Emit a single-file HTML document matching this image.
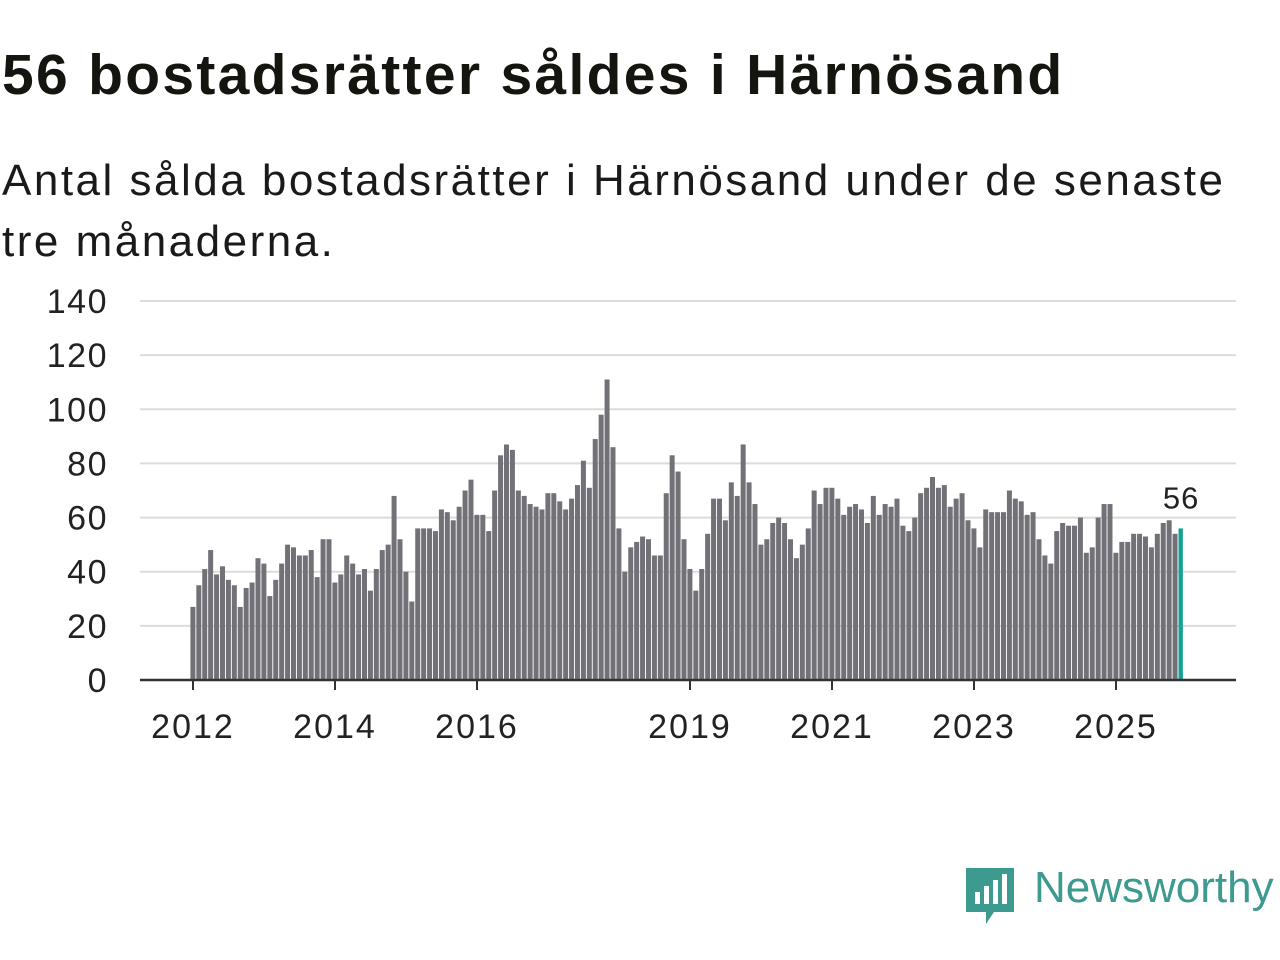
<!DOCTYPE html>
<html><head><meta charset="utf-8"><style>
body{margin:0;width:1280px;height:960px;background:#fff;font-family:"Liberation Sans","DejaVu Sans",sans-serif;color:#111;position:relative;overflow:hidden}
#title{position:absolute;left:2px;top:42px;font-size:57px;font-weight:bold;margin:0;color:#151510;letter-spacing:2.3px;white-space:nowrap}
#sub{position:absolute;left:2px;top:150px;font-size:44px;line-height:61px;margin:0;color:#1a1a1a;width:1240px;letter-spacing:2.5px}
svg{position:absolute;left:0;top:0}
</style></head><body>
<h1 id="title">56 bostadsrätter såldes i Härnösand</h1>
<p id="sub">Antal sålda bostadsrätter i Härnösand under de senaste tre månaderna.</p>
<svg id="chart" width="1280" height="960"></svg>
<script>
const values=[27,35,41,48,39,42,37,35,27,34,36,45,
43,31,37,43,50,49,46,46,48,38,52,52,
36,39,46,43,39,41,33,41,48,50,68,52,
40,29,56,56,56,55,63,62,59,64,70,74,
61,61,55,70,83,87,85,70,68,65,64,63,
69,69,66,63,67,72,81,71,89,98,111,86,
56,40,49,51,53,52,46,46,69,83,77,52,
41,33,41,54,67,67,59,73,68,87,73,65,
50,52,58,60,58,52,45,50,56,70,65,71,
71,67,61,64,65,63,58,68,61,65,64,67,
57,55,60,69,71,75,71,72,64,67,69,59,
56,49,63,62,62,62,70,67,66,61,62,52,
46,43,55,58,57,57,60,47,49,60,65,65,
47,51,51,54,54,53,49,54,58,59,54,56];
const startYear=2012;
const yTicks=[0,20,40,60,80,100,120,140];
const xTickYears=[2012,2014,2016,2019,2021,2023,2025];
const NS="http://www.w3.org/2000/svg";
const svg=document.getElementById('chart');
const y=v=>680-v*(379/140);
const x=i=>193+i*(71/12);
function mk(t,a){const e=document.createElementNS(NS,t);for(const k in a)e.setAttribute(k,a[k]);svg.appendChild(e);return e;}
yTicks.forEach(t=>{
  if(t>0){const g=mk('line',{x1:140,x2:1236,y1:y(t),y2:y(t),stroke:'#dcdcdc','stroke-width':2});
  
  }
  const l=mk('text',{x:108,y:y(t)+12,'text-anchor':'end','font-size':34,fill:'#222','letter-spacing':1.5});
  l.textContent=t;
  
  
});
values.forEach((v,i)=>{
  const last=i===values.length-1;
  const r=mk('rect',{x:x(i)-2.6,y:y(v),width:last?4.4:5,height:680-y(v),fill:last?'#17a096':'#737178'});
  
  
});
const ax=mk('line',{x1:140,x2:1236,y1:680,y2:680,stroke:'#333','stroke-width':2.5});


xTickYears.forEach(yr=>{
  const xi=x((yr-startYear)*12);
  const t=mk('line',{x1:xi,x2:xi,y1:680,y2:690,stroke:'#333','stroke-width':2});
  
  
  const l=mk('text',{x:xi,y:738,'text-anchor':'middle','font-size':34,fill:'#222','letter-spacing':2});
  l.textContent=yr;
  
  
});
const li=values.length-1;
const vl=mk('text',{x:x(li),y:y(values[li])-20,'text-anchor':'middle','font-size':31,fill:'#222','letter-spacing':1});
vl.textContent=values[li];


</script>
<svg width="60" height="64" style="left:964px;top:866px">
<path d="M2 2 H50 V46 H30 L22 58 V46 H2 Z" fill="#3d9a8f"/>
<rect x="11" y="26" width="5" height="12" fill="#fff"/><rect x="20" y="20" width="5" height="18" fill="#fff"/><rect x="29" y="14" width="5" height="24" fill="#fff"/><rect x="38" y="8" width="5" height="30" fill="#fff"/>
</svg>
<div style="position:absolute;left:1034px;top:863px;font-size:44px;color:#3d9a8f">Newsworthy</div>
</body></html>
